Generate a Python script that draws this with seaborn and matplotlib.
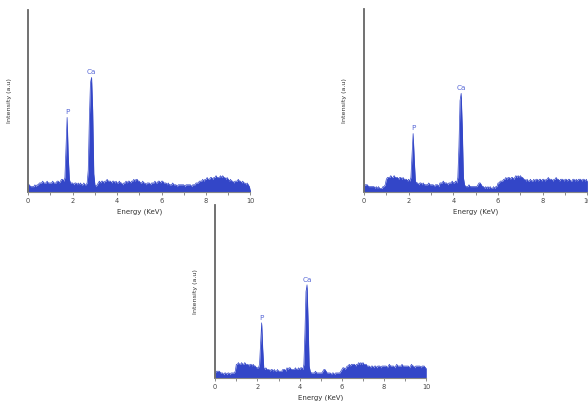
import numpy as np
import pandas as pd
import seaborn as sns
import matplotlib
matplotlib.use("Agg")
import matplotlib.pyplot as plt
from matplotlib.ticker import MultipleLocator

# energy axis (KeV), one reading every 0.05 KeV
energy = np.round(np.arange(0, 10.001, 0.05), 2)

# intensity (percent of the axis height)
spec_a = [4, 4, 3, 3, 3, 3, 4, 3, 4, 4, 5, 5, 5, 6, 5, 5, 5, 6, 5, 5,
          5, 5, 6, 5, 5, 5, 6, 6, 5, 6, 7, 7, 6, 8, 25, 41, 20, 7, 5, 5,
          5, 4, 5, 5, 4, 5, 4, 5, 4, 4, 5, 4, 4, 5, 12, 40, 60, 63, 45, 10,
          4, 3, 4, 5, 6, 5, 6, 6, 5, 6, 6, 7, 6, 6, 6, 5, 6, 6, 5, 6,
          5, 5, 6, 5, 5, 4, 5, 5, 6, 5, 6, 6, 5, 6, 6, 7, 6, 7, 7, 6,
          6, 5, 5, 6, 5, 5, 4, 5, 5, 5, 4, 5, 5, 5, 6, 5, 5, 6, 6, 5,
          6, 6, 5, 5, 5, 4, 5, 4, 4, 4, 5, 4, 4, 4, 3, 4, 4, 4, 4, 4,
          4, 3, 4, 4, 4, 4, 4, 3, 4, 4, 4, 5, 5, 5, 6, 6, 6, 7, 6, 7,
          7, 8, 7, 7, 8, 8, 7, 8, 8, 9, 8, 8, 8, 9, 8, 9, 8, 8, 7, 8,
          7, 6, 7, 6, 6, 5, 6, 6, 6, 7, 6, 6, 5, 6, 5, 5, 4, 5, 4, 3, 1]

spec_b = [3, 4, 4, 4, 3, 3, 3, 3, 3, 3, 2, 3, 2, 3, 2, 2, 2, 3, 3, 4,
          7, 8, 8, 8, 9, 8, 8, 9, 8, 8, 8, 7, 8, 8, 7, 8, 7, 7, 7, 6,
          7, 6, 8, 20, 32, 18, 6, 5, 5, 4, 5, 5, 4, 5, 4, 4, 4, 4, 5, 4,
          4, 4, 4, 3, 4, 4, 4, 3, 5, 5, 5, 6, 5, 5, 5, 4, 5, 5, 5, 6,
          5, 5, 6, 5, 8, 25, 50, 54, 35, 8, 4, 3, 3, 3, 4, 3, 3, 3, 3, 3,
          3, 3, 4, 5, 5, 4, 3, 3, 2, 3, 2, 3, 2, 3, 2, 2, 3, 2, 3, 3,
          5, 5, 6, 6, 6, 7, 7, 8, 7, 8, 8, 7, 8, 8, 7, 8, 9, 8, 9, 8,
          9, 8, 8, 7, 7, 6, 7, 6, 6, 7, 6, 6, 7, 6, 7, 7, 6, 7, 7, 6,
          7, 7, 6, 7, 7, 8, 7, 7, 7, 6, 7, 7, 8, 7, 7, 6, 7, 7, 7, 6,
          7, 7, 6, 7, 7, 6, 6, 7, 7, 6, 7, 6, 7, 7, 7, 6, 7, 7, 6, 7, 6]

spec_c = [3, 4, 4, 4, 4, 3, 3, 3, 2, 3, 3, 2, 3, 3, 2, 3, 3, 3, 3, 4,
          8, 8, 9, 8, 8, 9, 8, 8, 9, 8, 8, 8, 7, 8, 8, 7, 8, 7, 7, 6,
          6, 6, 8, 20, 32, 17, 6, 5, 6, 5, 5, 5, 4, 5, 5, 4, 5, 4, 4, 5,
          4, 4, 4, 4, 5, 5, 5, 4, 6, 5, 6, 6, 5, 5, 5, 5, 6, 5, 5, 6,
          5, 6, 6, 5, 8, 26, 50, 54, 33, 7, 4, 3, 3, 3, 3, 4, 3, 3, 3, 3,
          3, 3, 4, 5, 5, 4, 3, 3, 3, 3, 2, 3, 3, 2, 3, 3, 3, 3, 3, 4,
          5, 6, 6, 5, 6, 7, 7, 8, 7, 8, 8, 8, 8, 7, 8, 8, 9, 8, 9, 8,
          9, 8, 8, 8, 7, 7, 7, 6, 7, 7, 6, 7, 7, 6, 7, 7, 7, 6, 7, 7,
          7, 7, 7, 6, 7, 8, 7, 7, 7, 7, 6, 7, 8, 7, 7, 7, 7, 8, 7, 7,
          7, 7, 7, 7, 6, 7, 8, 7, 7, 6, 7, 7, 7, 7, 7, 6, 7, 7, 7, 6, 6]

# peak labels: element, energy position
peaks_a = [("P", 1.75), ("Ca", 2.85)]
peaks_b = [("P", 2.20), ("Ca", 4.35)]
peaks_c = [("P", 2.20), ("Ca", 4.35)]

sns.set_style("white")
plt.rcParams['font.family'] = ['DejaVu Sans']

fill_col = "#3346c8"
text_col = "#5566d6"

fig = plt.figure(figsize=(5.88, 4.01), dpi=100)
# axes boxes in figure fractions
boxes = [[0.048, 0.521, 0.378, 0.454],
         [0.619, 0.521, 0.380, 0.456],
         [0.366, 0.057, 0.359, 0.431]]
specs = [spec_a, spec_b, spec_c]
peaks = [peaks_a, peaks_b, peaks_c]
ylab_x = [-0.072, -0.076, -0.08]

for box, spec, pk, lx in zip(boxes, specs, peaks, ylab_x):
    ax = fig.add_axes(box)
    df = pd.DataFrame({"energy": energy, "intensity": spec})
    ax.fill_between(df["energy"], 0, df["intensity"], color=fill_col, lw=0)
    sns.lineplot(data=df, x="energy", y="intensity", ax=ax, color=fill_col, lw=0.5)
    for name, e in pk:
        h = df.loc[(df["energy"] - e).abs().idxmin(), "intensity"]
        ax.text(e, h + 1.2, name, ha="center", va="bottom", fontsize=5.2, color=text_col)
    ax.set_xlim(0, 10)
    ax.set_ylim(0, 100)
    ax.set_yticks([])
    ax.xaxis.set_major_locator(MultipleLocator(2))
    ax.xaxis.set_minor_locator(MultipleLocator(1))
    ax.tick_params(axis="x", which="both", direction="out", length=2.5, width=0.6,
                   color="#777777", labelsize=4.8, labelcolor="#444444", pad=2,
                   bottom=True)
    for s in ["top", "right"]:
        ax.spines[s].set_visible(False)
    ax.spines["left"].set_color("#666666")
    ax.spines["left"].set_linewidth(1.3)
    ax.spines["bottom"].set_color("#888888")
    ax.spines["bottom"].set_linewidth(0.8)
    ax.set_xlabel("Energy (KeV)", fontsize=5, color="#333333", labelpad=3)
    ax.set_ylabel("Intensity (a.u)", fontsize=4.6, color="#333333")
    ax.yaxis.set_label_coords(lx, 0.5)

fig.savefig("out.png", dpi=100)
